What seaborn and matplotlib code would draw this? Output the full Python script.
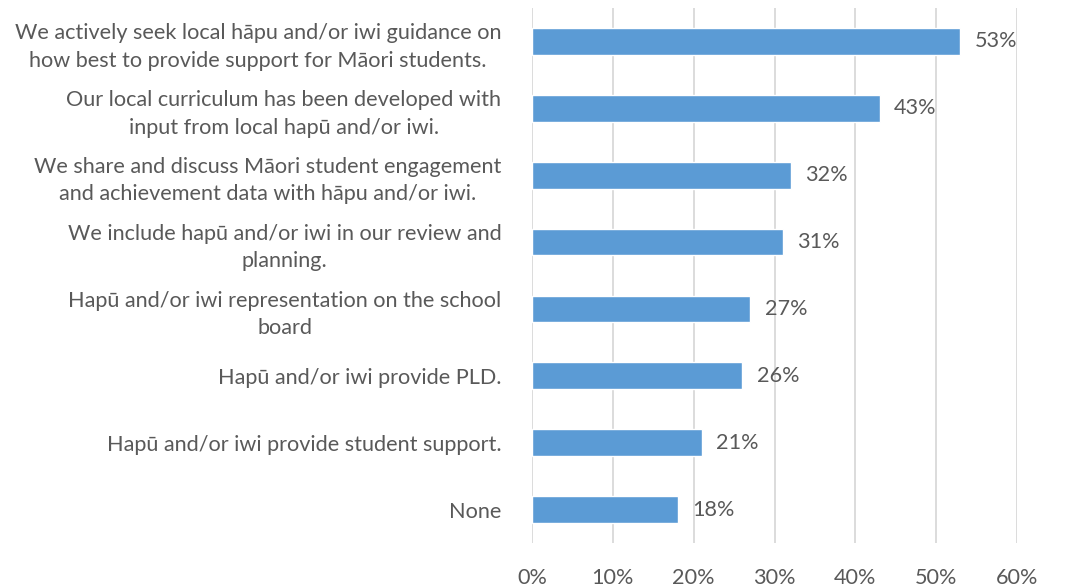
import matplotlib
matplotlib.use("Agg")
import matplotlib.pyplot as plt
import seaborn as sns
import pandas as pd

categories = [
    "We actively seek local hāpu and/or iwi guidance on\nhow best to provide support for Māori students.",
    "Our local curriculum has been developed with\ninput from local hapū and/or iwi.",
    "We share and discuss Māori student engagement\nand achievement data with hāpu and/or iwi.",
    "We include hapū and/or iwi in our review and\nplanning.",
    "Hapū and/or iwi representation on the school\nboard",
    "Hapū and/or iwi provide PLD.",
    "Hapū and/or iwi provide student support.",
    "None",
]
values = [53, 43, 32, 31, 27, 26, 21, 18]
x_ticks = [0, 10, 20, 30, 40, 50, 60]
x_tick_labels = ["0%", "10%", "20%", "30%", "40%", "50%", "60%"]

sns.set_theme(style="white")
plt.rcParams["font.family"] = ["Lato", "DejaVu Sans"]

text_color = "#595959"
bar_color = "#5B9BD5"
grid_color = "#D9D9D9"
fsize = 15.6

df = pd.DataFrame({"category": categories, "value": values})

fig = plt.figure(figsize=(10.75, 5.88), dpi=100)
ax = fig.add_axes([0.4949, 0.0765, 0.4512, 0.9099])

sns.barplot(data=df, x="value", y="category", color=bar_color,
            width=0.4, saturation=1, ax=ax, zorder=3)

ax.set_xlim(0, 60)
ax.set_xticks(x_ticks)
ax.set_xticklabels(x_tick_labels)
ax.xaxis.grid(True, color=grid_color, linewidth=1.3, zorder=0)
ax.yaxis.grid(False)
ax.set_axisbelow(True)
for s in ax.spines.values():
    s.set_visible(False)
ax.set_xlabel("")
ax.set_ylabel("")
ax.tick_params(axis="both", length=0, colors=text_color, labelsize=fsize)
ax.tick_params(axis="y", pad=22)
ax.tick_params(axis="x", pad=18)
for lbl in ax.get_yticklabels():
    lbl.set_multialignment("center")
    lbl.set_linespacing(1.45)

for patch, v in zip(ax.patches, values):
    ax.text(patch.get_width() + 1.8, patch.get_y() + patch.get_height() / 2,
            f"{v}%", va="center", ha="left", color=text_color, fontsize=fsize)

fig.savefig("out.png", dpi=100)
